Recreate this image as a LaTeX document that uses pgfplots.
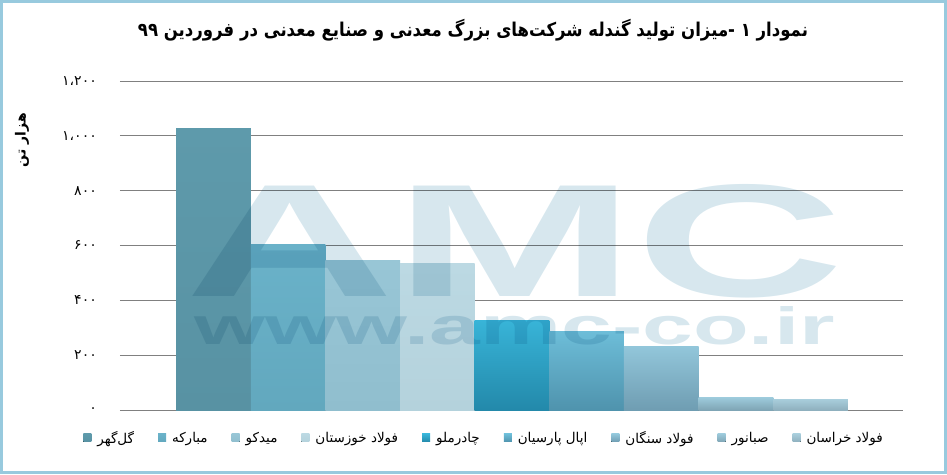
\documentclass[border=0pt]{standalone}
\usepackage{fontspec}
\usepackage{graphicx}
\usepackage{pgfplots}
\pgfplotsset{compat=1.18}
\TeXXeTstate=1
\setmainfont{Liberation Sans}
\newfontfamily\ar[Script=Arabic]{DejaVu Sans}

\definecolor{cA}{RGB}{94,154,171}
\definecolor{cAb}{RGB}{88,146,163}
\definecolor{cB}{RGB}{106,178,201}
\definecolor{cBb}{RGB}{98,168,190}
\definecolor{cC}{RGB}{152,198,214}
\definecolor{cCb}{RGB}{144,190,206}
\definecolor{cD}{RGB}{188,217,227}
\definecolor{cDb}{RGB}{180,210,220}
\definecolor{cEt}{RGB}{56,180,216}
\definecolor{cEb}{RGB}{35,137,170}
\definecolor{cFt}{RGB}{109,189,216}
\definecolor{cFb}{RGB}{79,147,173}
\definecolor{cGt}{RGB}{146,198,218}
\definecolor{cGb}{RGB}{111,157,178}
\definecolor{cHt}{RGB}{156,201,218}
\definecolor{cHb}{RGB}{127,165,181}
\definecolor{cIt}{RGB}{168,205,219}
\definecolor{cIb}{RGB}{143,176,190}
\definecolor{wm}{RGB}{215,231,238}
\definecolor{frame}{RGB}{152,202,222}
\definecolor{gridc}{RGB}{128,128,128}

\begin{document}
\begin{tikzpicture}[x=1pt,y=1pt]
\useasboundingbox (-120,-64) rectangle (827,410);

\begin{axis}[
at={(0,0)}, anchor=south west,
scale only axis,
width=783pt,
height=329pt,
xmin=-1.252, xmax=9.238,
ymin=0, ymax=1200,
ybar, bar width=1, bar shift=0pt,
axis line style={draw=none},
xtick=\empty,
ytick={0,200,400,600,800,1000,1200},
yticklabels={۰,۲۰۰,۴۰۰,۶۰۰,۸۰۰,۱،۰۰۰,۱،۲۰۰},
major tick length=0pt,
y tick label style={font=\ar\fontsize{14}{16}\selectfont, anchor=east, inner sep=0pt, xshift=-23pt},
ymajorgrids,
grid style={draw=gridc, line width=0.9pt},
legend columns=9,
legend style={at={(0.465,-0.085)}, anchor=center, draw=none, fill=none,
  font=\ar\fontsize{13.5}{15}\selectfont,
  /tikz/every even column/.append style={column sep=22pt}},
legend image code/.code={\fill[#1] (0pt,-4pt) rectangle (8pt,4pt); \path (12pt,0pt);},
]

\addplot[draw=none, top color=cA, bottom color=cAb] coordinates {(0,1025)};
\addlegendentry{\beginR گل‌گهر\endR}
\addplot[draw=none, top color=cB, bottom color=cBb] coordinates {(1,604)};
\addlegendentry{\beginR مبارکه\endR}
\addplot[draw=none, top color=cC, bottom color=cCb] coordinates {(2,547)};
\addlegendentry{\beginR میدکو\endR}
\addplot[draw=none, top color=cD, bottom color=cDb] coordinates {(3,536)};
\addlegendentry{\beginR فولاد خوزستان\endR}
\addplot[draw=none, top color=cEt, bottom color=cEb] coordinates {(4,328)};
\addlegendentry{\beginR چادرملو\endR}
\addplot[draw=none, top color=cFt, bottom color=cFb] coordinates {(5,285)};
\addlegendentry{\beginR اپال پارسیان\endR}
\addplot[draw=none, top color=cGt, bottom color=cGb] coordinates {(6,231)};
\addlegendentry{\beginR فولاد سنگان\endR}
\addplot[draw=none, top color=cHt, bottom color=cHb] coordinates {(7,44)};
\addlegendentry{\beginR صبانور\endR}
\addplot[draw=none, top color=cIt, bottom color=cIb] coordinates {(8,39)};
\addlegendentry{\beginR فولاد خراسان\endR}
\end{axis}

% watermark
\begin{scope}[blend mode=multiply]
\node[text=wm, inner sep=0pt] at (395,169) {\resizebox{658pt}{112pt}{\bfseries AMC}};
\node[text=wm, inner sep=0pt] at (395,84) {\resizebox{640pt}{38pt}{\bfseries www.amc-co.ir}};
\end{scope}

\node[font=\ar\bfseries\fontsize{19}{22}\selectfont, xscale=0.87] at (353,380)
  {\beginR نمودار ۱ -میزان تولید گندله شرکت‌های بزرگ معدنی و صنایع معدنی در فروردین ۹۹\endR};
\node[rotate=90, font=\ar\bfseries\fontsize{14}{16}\selectfont] at (-98,270) {\beginR هزار تن\endR};

\draw[frame, line width=3pt] (-118.5,-62.5) rectangle (825.5,408.5);
\end{tikzpicture}
\end{document}
